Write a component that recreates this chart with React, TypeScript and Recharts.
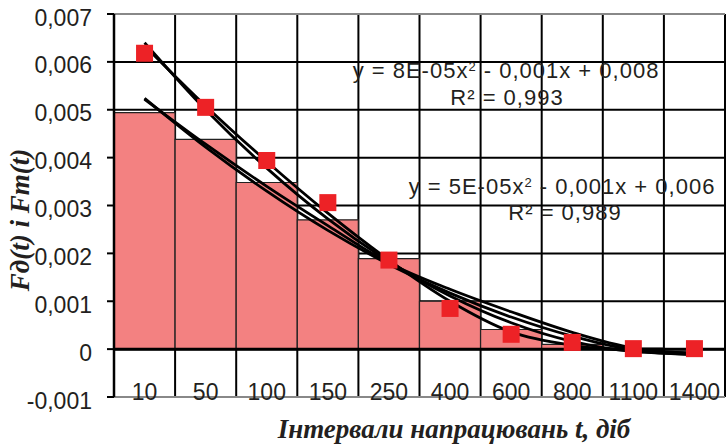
import * as React from 'react'
import {
  ComposedChart,
  Bar,
  Line,
  XAxis,
  YAxis,
  CartesianGrid,
  ReferenceLine,
} from 'recharts'

// intervals of operation, days
const categories = ['10', '50', '100', '150', '250', '400', '600', '800', '1100', '1400']

// Fд(t) – histogram bars
const barValues = [0.00494, 0.00438, 0.00348, 0.0027, 0.00189, 0.001, 0.00041, 0.0001, 0.00002, 0]

// Fm(t) – red squares
const markerValues = [0.00618, 0.00505, 0.00394, 0.00306, 0.00186, 0.00085, 0.00031, 0.00014, 0.00001, 0.00001]

// trend curves
const trendMarkers = [0.0064, 0.005, 0.00378, 0.00272, 0.00183, 0.00111, 0.00055, 0.00016, -0.00005, -0.0001]
const trendMarkers2 = [0.00634, 0.00508, 0.00392, 0.00284, 0.00186, 0.001, 0.00036, 0.00008, -0.00003, -0.00008]
const trendBars = [0.00524, 0.00422, 0.0033, 0.00248, 0.00177, 0.00117, 0.00067, 0.00027, -0.00002, -0.00012]
const trendBars2 = [0.00522, 0.00428, 0.0034, 0.00258, 0.0018, 0.00125, 0.00078, 0.00035, 0.00002, -0.00009]

const yTicks = [-0.001, 0, 0.001, 0.002, 0.003, 0.004, 0.005, 0.006, 0.007]

const data = categories.map((c, i) => ({
  cat: c,
  bar: barValues[i],
  marker: markerValues[i],
  tm: trendMarkers[i],
  tm2: trendMarkers2[i],
  tb: trendBars[i],
  tb2: trendBars2[i],
}))

const SANS = '"Liberation Sans", Arial, sans-serif'
const SERIF = '"Liberation Serif", "Times New Roman", serif'
const TEXT = '#231f20'

const fmt = (v: number) => (v === 0 ? '0' : v.toFixed(3).replace('.', ','))

function YTick(props: any) {
  const { x, y, payload } = props
  return (
    <text x={x} y={y + 11.5} textAnchor="end" fontFamily={SANS} fontSize={23} fill={TEXT}>
      {fmt(payload.value)}
    </text>
  )
}

function XTick(props: any) {
  const { x, y, payload } = props
  return (
    <text x={x} y={y + 2.5} textAnchor="middle" fontFamily={SANS} fontSize={23} fill={TEXT}>
      {payload.value}
    </text>
  )
}

function Square(props: any) {
  const { cx, cy, index } = props
  if (cx == null || cy == null) return <g key={index} />
  return <rect key={index} x={cx - 8.5} y={cy - 8.5} width={17} height={17} fill="#ed2226" />
}

const eqStyle: React.CSSProperties = {
  position: 'absolute',
  transform: 'translate(-50%, -50%)',
  whiteSpace: 'nowrap',
  fontFamily: SANS,
  fontSize: 22,
  letterSpacing: 1,
  color: TEXT,
  lineHeight: 1,
}

const titleStyle: React.CSSProperties = {
  position: 'absolute',
  whiteSpace: 'nowrap',
  fontFamily: SERIF,
  fontWeight: 'bold',
  fontStyle: 'italic',
  fontSize: 27,
  color: TEXT,
  lineHeight: 1,
}

const sup: React.CSSProperties = { fontSize: 13, verticalAlign: 'top', lineHeight: 1 }

export default function App() {
  return (
    <div style={{ position: 'relative', width: 726, height: 446, background: '#fff' }}>
      <style>{'body{margin:0}'}</style>
      <ComposedChart
        width={726}
        height={446}
        data={data}
        margin={{ top: 14, right: 1, bottom: 0, left: 0 }}
        barCategoryGap={0}
        barGap={0}
      >
        <CartesianGrid
          stroke="#000"
          strokeWidth={2}
          verticalCoordinatesGenerator={({ offset }: any) =>
            categories.map((_, i) => offset.left + (offset.width * (i + 1)) / categories.length)
          }
        />
        <XAxis
          dataKey="cat"
          height={49}
          tickSize={0}
          tickMargin={0}
          tickLine={false}
          axisLine={{ stroke: '#888', strokeWidth: 2 }}
          tick={<XTick />}
          interval={0}
        />
        <YAxis
          width={114}
          domain={[-0.001, 0.007]}
          ticks={yTicks}
          allowDataOverflow
          tickSize={7}
          tickMargin={15}
          tickLine={{ stroke: '#000', strokeWidth: 2 }}
          axisLine={{ stroke: '#000', strokeWidth: 2.5 }}
          tick={<YTick />}
          interval={0}
        />
        <ReferenceLine y={0.007} stroke="#888" strokeWidth={2} />
        <ReferenceLine y={0} stroke="#000" strokeWidth={3} />
        <Bar dataKey="bar" fill="#f38181" stroke="#222" strokeWidth={1.2} isAnimationActive={false} />
        <Line dataKey="marker" stroke="none" dot={<Square />} activeDot={false} isAnimationActive={false} />
        <Line dataKey="tb" type="monotone" stroke="#000" strokeWidth={2.8} dot={false} isAnimationActive={false} />
        <Line dataKey="tb2" type="monotone" stroke="#000" strokeWidth={2.8} dot={false} isAnimationActive={false} />
        <Line dataKey="tm" type="monotone" stroke="#000" strokeWidth={2.8} dot={false} isAnimationActive={false} />
        <Line dataKey="tm2" type="monotone" stroke="#000" strokeWidth={2.8} dot={false} isAnimationActive={false} />
      </ComposedChart>

      <div style={{ ...eqStyle, left: 506, top: 71 }}>
        y = 8E-05x<sup style={sup}>2</sup> - 0,001x + 0,008
      </div>
      <div style={{ ...eqStyle, left: 507, top: 98 }}>R² = 0,993</div>
      <div style={{ ...eqStyle, left: 562, top: 187 }}>
        y = 5E-05x<sup style={sup}>2</sup> - 0,001x + 0,006
      </div>
      <div style={{ ...eqStyle, left: 565, top: 213 }}>R² = 0,989</div>

      <div style={{ ...titleStyle, left: 20, top: 220, transform: 'translate(-50%, -50%) rotate(-90deg)' }}>
        Fд(t) і Fm(t)
      </div>
      <div style={{ ...titleStyle, left: 454, top: 429, transform: 'translate(-50%, -50%)' }}>
        Інтервали напрацювань t, діб
      </div>
    </div>
  )
}
